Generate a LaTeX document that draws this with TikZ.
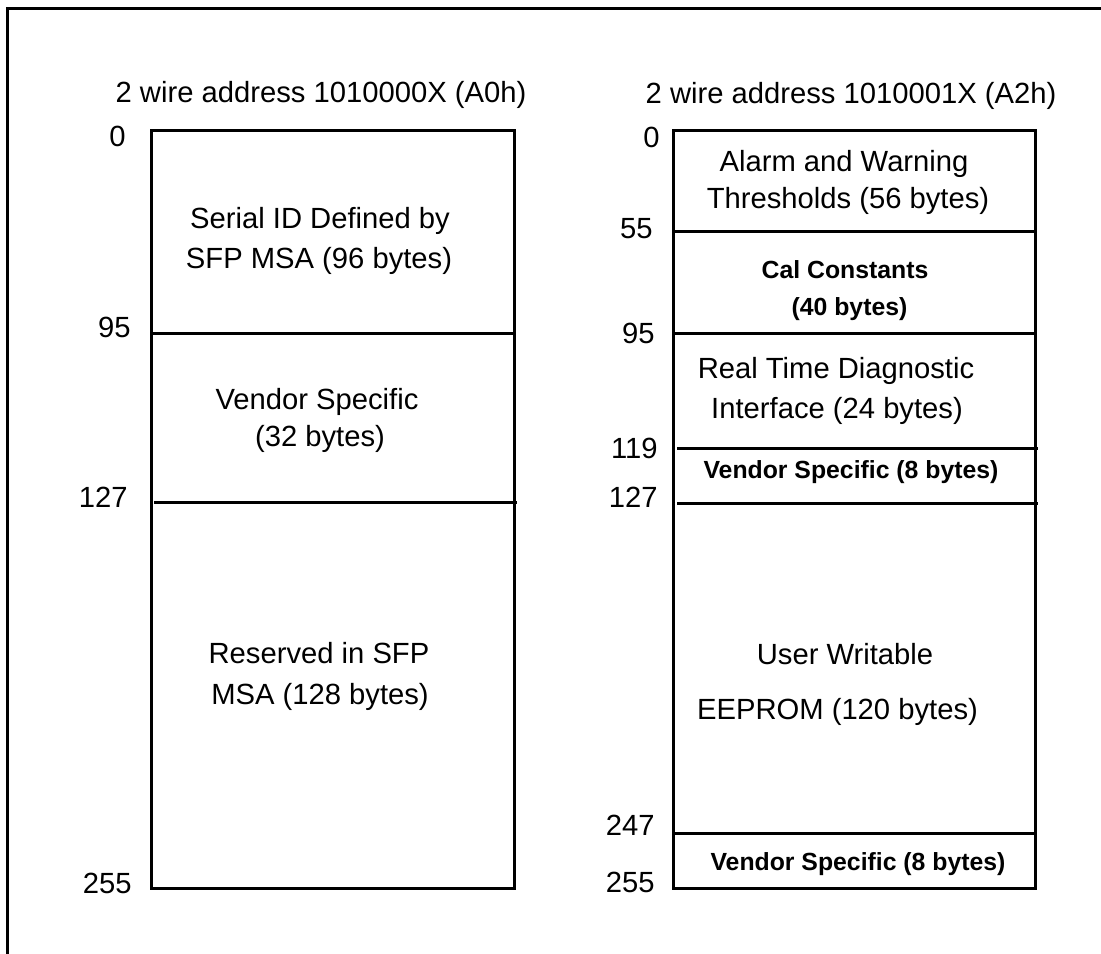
\documentclass[tikz,border=0pt]{standalone}
\usepackage{fontspec}
\setmainfont{Liberation Sans}
\begin{document}
\begin{tikzpicture}[x=0.5pt,y=-0.5pt,
  lbl/.style={inner sep=0pt,anchor=base,font=\fontsize{14.6}{17}\selectfont},
  blbl/.style={inner sep=0pt,anchor=base,font=\fontsize{12.4}{15}\selectfont\bfseries},
  num/.style={inner sep=0pt,anchor=base east,font=\fontsize{14.6}{17}\selectfont},
  ln/.style={line width=1.5pt}]
\useasboundingbox (0,0) rectangle (1101,953);
\clip (0,0) rectangle (1101,953);
% outer frame (runs past right and bottom edges)
\draw[ln] (7,8) rectangle (1120,980);

% titles
\node[lbl] (tA) at (321,102) {2 wire address 1010000X (A0h)};
\node[lbl] (tB) at (851,103) {2 wire address 1010001X (A2h)};

% left box
\draw[ln] (151,130) rectangle (514,888);
\draw[ln] (151,333) -- (514,333);
\draw[ln] (154,502) -- (517,502);

\node[lbl] (a1) at (320,228) {Serial ID Defined by};
\node[lbl] (a2) at (319,268) {SFP MSA (96 bytes)};
\node[lbl] (b1) at (317,409) {Vendor Specific};
\node[lbl] (b2) at (320,446) {(32 bytes)};
\node[lbl] (c1) at (319,663) {Reserved in SFP};
\node[lbl] (c2) at (320,704) {MSA (128 bytes)};

\node[num] (n0) at (126,146) {0};
\node[num] (n95) at (131,337) {95};
\node[num] (n127) at (128,507) {127};
\node[num] (n255) at (132,893) {255};

% right box
\draw[ln] (673,130) rectangle (1035,888);
\draw[ln] (673,231) -- (1035,231);
\draw[ln] (673,333) -- (1035,333);
\draw[ln] (677,448) -- (1038,448);
\draw[ln] (677,503) -- (1038,503);
\draw[ln] (673,833) -- (1035,833);

\node[lbl] (d1) at (844,171) {Alarm and Warning};
\node[lbl] (d2) at (848,208) {Thresholds (56 bytes)};
\node[blbl] (e1) at (845,278) {Cal Constants};
\node[blbl] (e2) at (849.5,315) {(40 bytes)};
\node[lbl] (f1) at (836,378) {Real Time Diagnostic};
\node[lbl] (f2) at (837,418) {Interface (24 bytes)};
\node[blbl] (g1) at (851,478) {Vendor Specific (8 bytes)};
\node[lbl] (h1) at (845,664) {User Writable};
\node[lbl] (h2) at (837.5,719) {EEPROM (120 bytes)};
\node[blbl] (i1) at (858,870) {Vendor Specific (8 bytes)};

\node[num] (m0) at (660,147) {0};
\node[num] (m55) at (653,238) {55};
\node[num] (m95) at (655,343) {95};
\node[num] (m119) at (658,458) {119};
\node[num] (m127) at (658,507) {127};
\node[num] (m247) at (655,835) {247};
\node[num] (m255) at (655,892) {255};
\end{tikzpicture}
\end{document}
